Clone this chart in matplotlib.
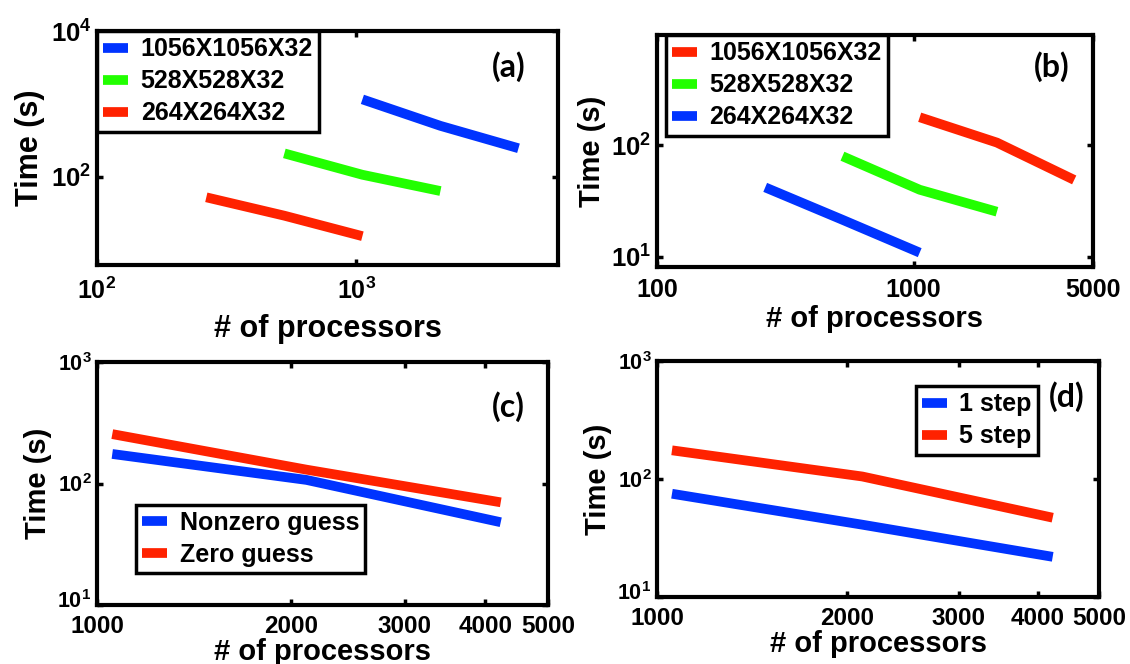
import matplotlib
matplotlib.use("Agg")
import matplotlib.pyplot as plt
import matplotlib.transforms as mtransforms
from matplotlib.ticker import FixedLocator, FixedFormatter, NullLocator

plt.rcParams['font.family'] = ['Liberation Sans', 'DejaVu Sans']
plt.rcParams['font.weight'] = 'bold'
plt.rcParams['mathtext.fontset'] = 'custom'
plt.rcParams['mathtext.rm'] = 'Liberation Sans:bold'
plt.rcParams['mathtext.bf'] = 'Liberation Sans:bold'
plt.rcParams['mathtext.it'] = 'Liberation Sans:bold'

BLUE = '#0033FF'
GREEN = '#22FF00'
RED = '#FF2200'

# ---- data ----
grid_labels = ['1056X1056X32', '528X528X32', '264X264X32']
procs_large = [1056, 2112, 4224]
procs_mid = [528, 1056, 2112]
procs_small = [264, 528, 1056]

a_large = [1156, 501, 247]
a_mid = [210, 107, 64]
a_small = [52.5, 29.4, 15.4]

b_large = [179, 106, 49]
b_mid = [80, 40, 25.4]
b_small = [42, 21.5, 10.9]

c_labels = ['Nonzero guess', 'Zero guess']
c_nonzero = [175, 107, 48]
c_zero = [255, 130, 70]

d_labels = ['1 step', '5 step']
d_one = [75, 41, 21.9]
d_five = [175, 105, 47]

W, H = 1130, 664
fig = plt.figure(figsize=(W / 100, H / 100), dpi=100)


def ax_px(l, t, r, b):
    return fig.add_axes([l / W, 1 - b / H, (r - l) / W, (b - t) / H])


LW = 7


def style(ax, xt, xtl, yt, ytl, xfs, yfs, lfs, xlpad=0, xpad=9):
    ax.set_xscale('log')
    ax.set_yscale('log')
    ax.xaxis.set_major_locator(FixedLocator(xt))
    ax.xaxis.set_major_formatter(FixedFormatter(xtl))
    ax.yaxis.set_major_locator(FixedLocator(yt))
    ax.yaxis.set_major_formatter(FixedFormatter(ytl))
    ax.xaxis.set_minor_locator(NullLocator())
    ax.yaxis.set_minor_locator(NullLocator())
    ax.tick_params(which='both', direction='in', length=4, width=2.5,
                   top=True, right=True)
    ax.tick_params(axis='x', labelsize=xfs, pad=xpad)
    ax.tick_params(axis='y', labelsize=yfs, pad=4)
    for s in ax.spines.values():
        s.set_linewidth(3)
    ax.set_xlabel('# of processors', fontsize=lfs, fontweight='bold', labelpad=xlpad)
    ax.set_ylabel('Time (s)', fontsize=lfs, fontweight='bold', labelpad=4)


def legend(ax, fs, **kw):
    leg = ax.legend(fontsize=fs, frameon=True, fancybox=False, framealpha=1,
                    edgecolor='black', handlelength=1.0, handletextpad=0.5,
                    labelspacing=0.32, borderpad=0.25, **kw)
    leg.get_frame().set_linewidth(2.5)
    for t in leg.get_texts():
        t.set_fontweight('bold')
    return leg


def panel_label(ax, s, x, y):
    ax.text(x, y, s, transform=ax.transAxes, ha='center', va='center',
            fontsize=23, fontweight='bold', family=['Lato', 'DejaVu Sans'])


kw = dict(linewidth=LW, solid_capstyle='butt')

# (a)
axa = ax_px(97, 31, 558, 265)
axa.plot(procs_large, a_large, color=BLUE, label=grid_labels[0], **kw)
axa.plot(procs_mid, a_mid, color=GREEN, label=grid_labels[1], **kw)
axa.plot(procs_small, a_small, color=RED, label=grid_labels[2], **kw)
axa.set_xlim(100, 6000)
axa.set_ylim(6.2, 1e4)
style(axa, [100, 1000], ['$10^{2}$', '$10^{3}$'], [100, 10000],
      ['$10^{2}$', '$10^{4}$'], 18, 18.5, 22, xlpad=7)
legend(axa, 18, loc='upper left', bbox_to_anchor=(0, 1), borderaxespad=0)
panel_label(axa, '(a)', 0.894, 0.846)

# (b)
axb = ax_px(657, 35, 1093, 267)
axb.plot(procs_large, b_large, color=RED, label=grid_labels[0], **kw)
axb.plot(procs_mid, b_mid, color=GREEN, label=grid_labels[1], **kw)
axb.plot(procs_small, b_small, color=BLUE, label=grid_labels[2], **kw)
axb.set_xlim(100, 5000)
axb.set_ylim(8.1, 980)
style(axb, [100, 1000, 5000], ['100', '1000', '5000'], [10, 100],
      ['$10^{1}$', '$10^{2}$'], 18, 18.5, 21, xlpad=2, xpad=8)
legend(axb, 18, loc='upper left', bbox_to_anchor=(0.02, 1), borderaxespad=0)
panel_label(axb, '(b)', 0.906, 0.862)

# (c)
axc = ax_px(97, 362, 548, 605)
axc.plot(procs_large, c_nonzero, color=BLUE, label=c_labels[0], **kw)
axc.plot(procs_large, c_zero, color=RED, label=c_labels[1], **kw)
axc.set_xlim(1000, 5000)
axc.set_ylim(10, 1000)
style(axc, [1000, 2000, 3000, 4000, 5000],
      ['1000', '2000', '3000', '4000', '5000'], [10, 100, 1000],
      ['$10^{1}$', '$10^{2}$', '$10^{3}$'], 17.5, 15.5, 21, xpad=7)
legend(axc, 18, loc='lower left', bbox_to_anchor=(0.086, 0.13), borderaxespad=0)
panel_label(axc, '(c)', 0.911, 0.815)

# (d)
axd = ax_px(657, 361, 1099, 597)
axd.plot(procs_large, d_one, color=BLUE, label=d_labels[0], **kw)
axd.plot(procs_large, d_five, color=RED, label=d_labels[1], **kw)
axd.set_xlim(1000, 5000)
axd.set_ylim(10, 1000)
style(axd, [1000, 2000, 3000, 4000, 5000],
      ['1000', '2000', '3000', '4000', '5000'], [10, 100, 1000],
      ['$10^{1}$', '$10^{2}$', '$10^{3}$'], 17.5, 15.5, 21, xpad=7)
legend(axd, 18, loc='upper right', bbox_to_anchor=(0.862, 0.894), borderaxespad=0)
panel_label(axd, '(d)', 0.928, 0.847)

# nudge the lowest y tick label of (c) and (d) slightly up so it clears "1000"
fig.canvas.draw()
shift = mtransforms.ScaledTranslation(0, 4 / 72, fig.dpi_scale_trans)
for ax in (axc, axd):
    lab = ax.yaxis.get_major_ticks()[0].label1
    lab.set_transform(lab.get_transform() + shift)

fig.savefig('out.png', dpi=100)
